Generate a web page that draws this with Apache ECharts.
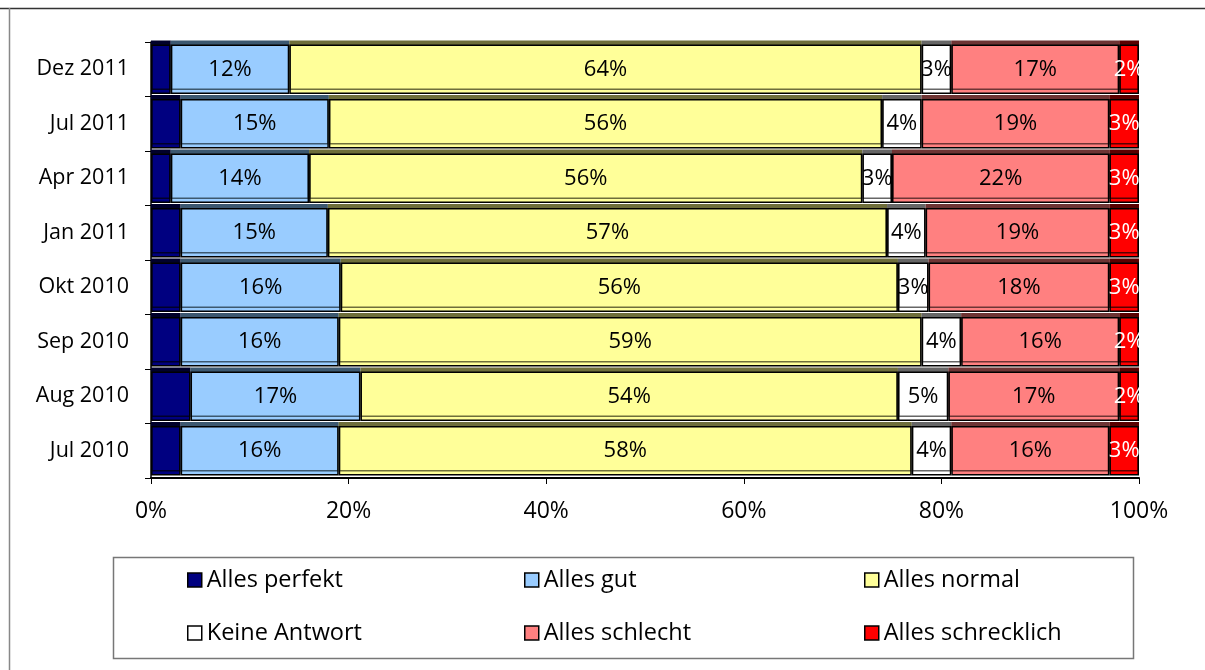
<!DOCTYPE html>
<html>
<head>
<meta charset="utf-8">
<script src="https://cdn.jsdelivr.net/npm/echarts@6/dist/echarts.min.js"></script>
<style>
html,body{margin:0;padding:0;background:#fff;}
#c{width:1205px;height:670px;}
</style>
</head>
<body>
<div id="c"></div>
<script>
// Categories, top to bottom
const categories = ['Dez 2011','Jul 2011','Apr 2011','Jan 2011','Okt 2010','Sep 2010','Aug 2010','Jul 2010'];
const seriesNames = ['Alles perfekt','Alles gut','Alles normal','Keine Antwort','Alles schlecht','Alles schrecklich'];
// Values (%) per series, in category order
const perfekt     = [2, 3, 2, 3,    3,    3, 4,    3];
const gut         = [12, 15, 14, 14.9, 16.2, 16, 17.2, 16];
const normal      = [64, 56, 56, 56.6, 56.4, 59, 54.4, 58];
const keine       = [3, 4, 3, 3.9,  3.1,  4, 5.1,  4];
const schlecht    = [17, 19, 22, 18.6, 18.3, 16, 17.3, 16];
const schrecklich = [2, 3, 3, 3,    3,    2, 2,    3];
const xTicks = ['0%','20%','40%','60%','80%','100%'];

const colors  = ['#000080','#99ccff','#ffff99','#ffffff','#ff8080','#ff0000'];
const shadows = ['#00002a','#3c5870','#6e6e3a','#666666','#6e3434','#5a0000'];
const labelColors = [null,'#000','#000','#000','#000','#fff'];
const allData = [perfekt, gut, normal, keine, schlecht, schrecklich];

const FONT = '"Open Sans", "Noto Sans", sans-serif';

const series = allData.map((d, i) => ({
  name: seriesNames[i],
  type: 'bar',
  stack: 'total',
  barCategoryGap: '9%',
  data: d,
  itemStyle: {
    color: colors[i],
    borderColor: '#000',
    borderWidth: 1.5,
    shadowColor: shadows[i],
    shadowBlur: 0,
    shadowOffsetY: -4
  },
  label: {
    show: i !== 0,
    position: 'inside',
    formatter: p => Math.round(p.value) + '%',
    color: labelColors[i] || '#000',
    fontSize: 22,
    fontFamily: FONT
  }
}));

function legendCol(left, names) {
  return {
    orient: 'vertical',
    left: left,
    top: 568,
    padding: 0,
    itemGap: 29,
    itemWidth: 14,
    itemHeight: 14,
    icon: 'rect',
    data: names,
    selectedMode: false,
    itemStyle: { borderColor: '#000', borderWidth: 1.5, shadowColor: 'transparent', shadowOffsetY: 0 },
    textStyle: { fontSize: 23.5, fontFamily: FONT, color: '#000', lineHeight: 23 }
  };
}

const option = {
  animation: false,
  backgroundColor: '#fff',
  grid: { left: 151, right: 66, top: 42, height: 436 },
  xAxis: {
    type: 'value',
    min: 0, max: 100, interval: 20,
    axisLine: { show: true, lineStyle: { color: '#000', width: 2 } },
    axisTick: { show: true, length: 6, lineStyle: { color: '#000' } },
    splitLine: { show: false },
    axisLabel: {
      formatter: v => xTicks[v / 20],
      fontSize: 23, fontFamily: FONT, color: '#000', margin: 22
    }
  },
  yAxis: {
    type: 'category',
    data: categories,
    inverse: true,
    axisLine: { show: true, lineStyle: { color: '#000', width: 1.5 } },
    axisTick: { show: true, length: 6, lineStyle: { color: '#000' } },
    axisLabel: { fontSize: 21.5, fontFamily: FONT, color: '#000', margin: 22 }
  },
  legend: [
    legendCol(187, [seriesNames[0], seriesNames[3]]),
    legendCol(524, [seriesNames[1], seriesNames[4]]),
    legendCol(864, [seriesNames[2], seriesNames[5]])
  ],
  graphic: [
    { type: 'line', shape: { x1: 0, y1: 8.5, x2: 1205, y2: 8.5 }, style: { stroke: '#333', lineWidth: 1.5 }, silent: true },
    { type: 'line', shape: { x1: 9.5, y1: 8, x2: 9.5, y2: 670 }, style: { stroke: '#888', lineWidth: 1.5 }, silent: true },
    { type: 'rect', shape: { x: 113.5, y: 557.5, width: 1020, height: 101 }, style: { fill: 'none', stroke: '#777', lineWidth: 1.5 }, silent: true, z: -1 }
  ],
  series: series
};

const chart = echarts.init(document.getElementById('c'), null, { renderer: 'canvas' });
chart.setOption(option);
</script>
</body>
</html>
